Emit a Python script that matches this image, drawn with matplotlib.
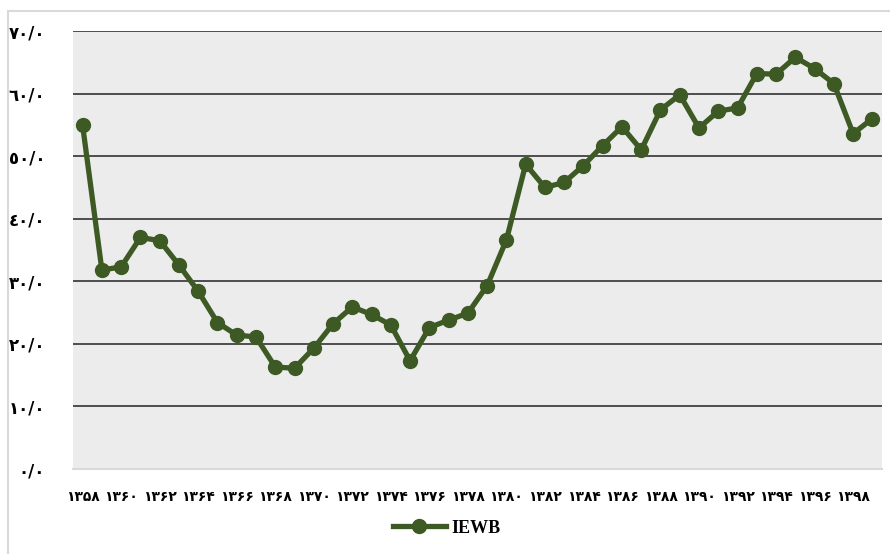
import matplotlib.pyplot as plt
from matplotlib.patches import Rectangle
import numpy as np

# IEWB index, 1358-1399
years = list(range(1358, 1400))
iewb = [54.9, 31.8, 32.3, 37.0, 36.5, 32.6, 28.4, 23.4, 21.4, 21.1,
        16.3, 16.1, 19.3, 23.2, 25.9, 24.7, 23.0, 17.3, 22.6, 23.8,
        24.9, 29.3, 36.6, 48.7, 45.0, 45.8, 48.5, 51.7, 54.7, 51.0,
        57.4, 59.8, 54.5, 57.2, 57.7, 63.2, 63.1, 65.8, 64.0, 61.6,
        53.6, 56.0]
y_ticks = [0, 10, 20, 30, 40, 50, 60, 70]

fa_digits = str.maketrans("0123456789", "۰۱۲۳۴۵۶۷۸۹")
ar_digits = str.maketrans("0123456789", "٠١٢٣٤٥٦٧٨٩")

green = "#3d5a24"

fig = plt.figure(figsize=(8.9, 5.54), dpi=100)
fig.patches.append(Rectangle((8 / 890, -0.1), 1.2, (554 - 11) / 554 + 0.1,
                             transform=fig.transFigure, fill=False,
                             edgecolor="#d9d9d9", linewidth=1.5))
ax = fig.add_axes([73 / 890, (554 - 469) / 554, 809 / 890, 438 / 554])
ax.set_facecolor("#ececec")

x = np.arange(len(years))
ax.plot(x, iewb, color=green, linewidth=3.8, marker="o", markersize=10,
        label="IEWB", solid_joinstyle="round")

ax.set_xlim(-0.5, len(years) - 0.5)
ax.set_ylim(0, 70)

ax.set_yticks(y_ticks)
ax.set_yticklabels([f"{v}/0".translate(ar_digits) for v in y_ticks],
                   fontweight="bold", fontsize=12)
ax.set_xticks(x[::2])
ax.set_xticklabels([str(y).translate(fa_digits) for y in years[::2]],
                   fontweight="bold", fontsize=10)
ax.tick_params(axis="y", length=0, pad=20)
ax.tick_params(axis="x", length=0, pad=15)

for v in y_ticks[1:]:
    ax.axhline(v, color="#222222", linewidth=1.1, zorder=1)

for s in ["left", "right", "top"]:
    ax.spines[s].set_visible(False)
ax.spines["bottom"].set_color("#d9d9d9")
ax.spines["bottom"].set_linewidth(1.5)

leg = ax.legend(loc="center", bbox_to_anchor=(0.462, -0.135), frameon=False,
                handlelength=2.9, handletextpad=0.3,
                prop={"family": "Liberation Serif", "weight": "bold", "size": 13})

plt.savefig("out.png", dpi=100)
